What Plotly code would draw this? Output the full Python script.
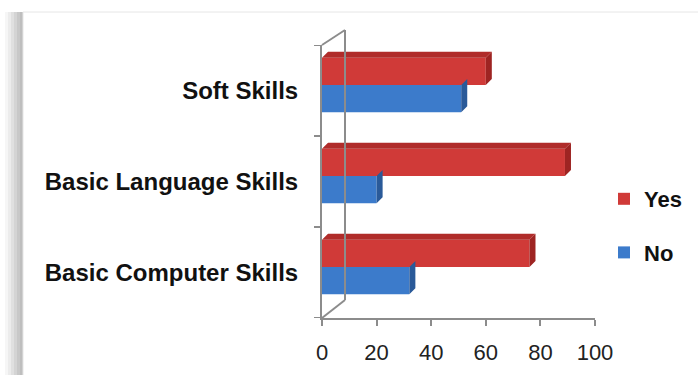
import plotly.graph_objects as go

categories = ["Basic Computer Skills", "Basic Language Skills", "Soft Skills"]
yes_values = [76, 89, 60]
no_values = [32, 20, 51]
x_ticks = [0, 20, 40, 60, 80, 100]

RED = "#D03A38"
RED_DARK = "#9E2422"
BLUE = "#3C7BCB"
BLUE_DARK = "#2A5A99"

fig = go.Figure()

BAR_W = 0.3
OFF_NO = -0.24
OFF_YES = 0.06
DX = 2.2
DY = 0.066


def depth_polys(vals, off):
    xs, ys = [], []
    for i, v in enumerate(vals):
        y0 = i + off
        y1 = y0 + BAR_W
        xs += [v, v + DX, v + DX, v, v, None]
        ys += [y0, y0 + DY, y1 + DY, y1, y0, None]
    return xs, ys


def top_polys(vals, off):
    xs, ys = [], []
    for i, v in enumerate(vals):
        y1 = i + off + BAR_W
        xs += [0, DX, v + DX, v, 0, None]
        ys += [y1, y1 + DY, y1 + DY, y1, y1, None]
    return xs, ys


fig.add_trace(go.Bar(y=list(range(3)), x=yes_values, orientation="h", name="<b>Yes</b>",
                     marker=dict(color=RED, line=dict(width=0)),
                     width=BAR_W, offset=OFF_YES, legendgroup="yes"))
sx, sy = depth_polys(yes_values, OFF_YES)
fig.add_trace(go.Scatter(x=sx, y=sy, fill="toself", fillcolor=RED_DARK, mode="none",
                         showlegend=False, hoverinfo="skip", legendgroup="yes"))
tx, ty = top_polys(yes_values, OFF_YES)
fig.add_trace(go.Scatter(x=tx, y=ty, fill="toself", fillcolor="#B02C2A", mode="none",
                         showlegend=False, hoverinfo="skip", legendgroup="yes"))

fig.add_trace(go.Bar(y=list(range(3)), x=no_values, orientation="h", name="<b>No</b>",
                     marker=dict(color=BLUE, line=dict(width=0)),
                     width=BAR_W, offset=OFF_NO, legendgroup="no"))
sx, sy = depth_polys(no_values, OFF_NO)
fig.add_trace(go.Scatter(x=sx, y=sy, fill="toself", fillcolor=BLUE_DARK, mode="none",
                         showlegend=False, hoverinfo="skip", legendgroup="no"))

AX = "#8C8C8C"

shapes = []
for k, c in enumerate(["#f6f6f6", "#ececec", "#e0e0e0", "#d4d4d4", "#c8c8c8", "#bebebe"]):
    shapes.append(dict(type="rect", xref="paper", yref="paper",
                       x0=(5 + k * 3 - 322) / 273, x1=(23 - 322) / 273,
                       y0=-0.3, y1=(318 - 12) / 273,
                       line=dict(width=0), fillcolor=c, layer="below"))
shapes.append(dict(type="rect", xref="paper", yref="paper",
                   x0=(23 - 322) / 273, x1=2, y0=-0.3, y1=(318 - 12) / 273,
                   line=dict(color="#e6e6e6", width=1), fillcolor="white", layer="below"))
bx = (345 - 322) / 273
shapes.append(dict(type="line", xref="paper", yref="paper", x0=bx, x1=bx,
                   y0=(318 - 300) / 273, y1=(318 - 30) / 273, line=dict(color=AX, width=2)))
shapes.append(dict(type="line", xref="paper", yref="paper", x0=0, x1=bx,
                   y0=0, y1=(318 - 300) / 273, line=dict(color=AX, width=2)))
shapes.append(dict(type="line", xref="paper", yref="paper", x0=0, x1=bx,
                   y0=1, y1=(318 - 30) / 273, line=dict(color=AX, width=2)))

fig.update_layout(
    width=698, height=375,
    margin=dict(l=322, r=103, t=45, b=57, autoexpand=False),
    paper_bgcolor="white", plot_bgcolor="rgba(0,0,0,0)",
    barmode="overlay",
    showlegend=True,
    legend=dict(x=(604 - 322) / 273, y=(318 - 226) / 273, xanchor="left", yanchor="middle",
                traceorder="grouped", tracegroupgap=22,
                font=dict(family="Liberation Sans", size=22, color="#111"),
                itemwidth=30, bgcolor="rgba(0,0,0,0)"),
    shapes=shapes,
    xaxis=dict(range=[0, 100], tickvals=x_ticks, ticktext=[str(t) for t in x_ticks],
               showgrid=False, zeroline=False, showline=True, linecolor=AX, linewidth=2,
               ticks="outside", ticklen=6, tickcolor=AX, tickwidth=2,
               ticklabelstandoff=8,
               tickfont=dict(family="Liberation Sans", size=22, color="#222")),
    yaxis=dict(range=[-0.5, 2.5], tickvals=list(range(3)),
               ticktext=["<b>" + c + "</b>" for c in categories],
               showgrid=False, zeroline=False, showline=True, linecolor=AX, linewidth=2,
               ticks="", ticklabelstandoff=17,
               tickfont=dict(family="Liberation Sans", size=24, color="#111")),
)
for yb in [-0.5, 0.5, 1.5, 2.5]:
    fig.add_shape(type="line", xref="paper", yref="y", x0=-8 / 273, x1=0, y0=yb, y1=yb,
                  line=dict(color=AX, width=2))

fig.write_html("out.html")
